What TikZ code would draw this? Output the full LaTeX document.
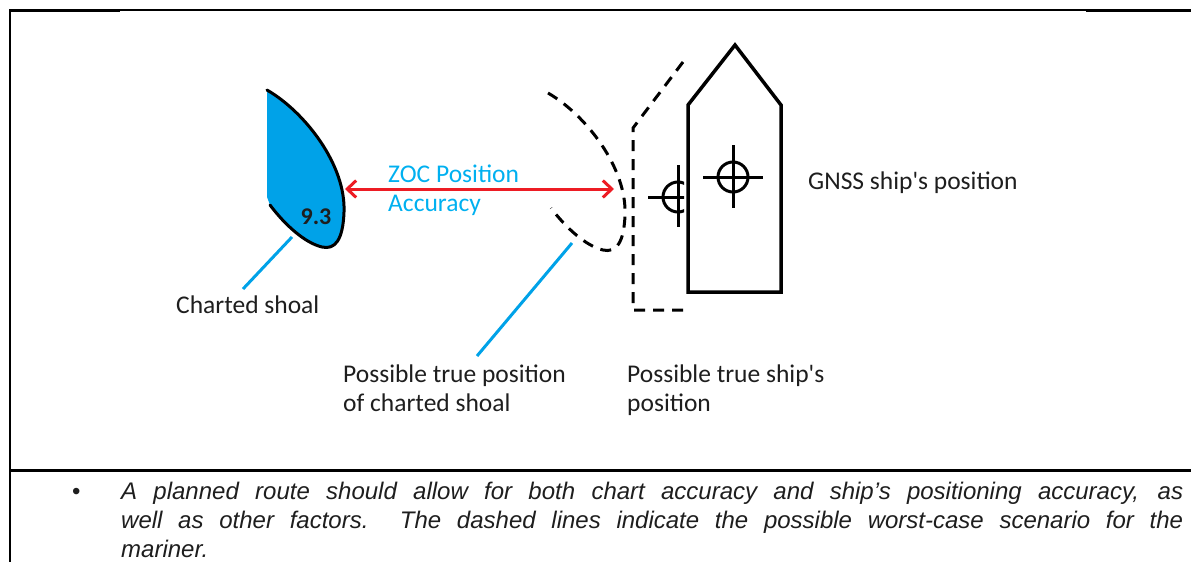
\documentclass[tikz,border=0pt]{standalone}
\usepackage{fontspec}
\setmainfont{Carlito}
\newfontfamily\arialfont{Liberation Sans}
\usetikzlibrary{arrows.meta}
\definecolor{shoalblue}{RGB}{0,162,232}
\definecolor{textblue}{RGB}{0,176,240}
\definecolor{arrred}{RGB}{237,28,36}
\definecolor{txt}{RGB}{30,30,30}
\newcommand{\sq}{\textquotesingle}
\begin{document}
\begin{tikzpicture}[x=1pt,y=-1pt,
  lbl/.style={anchor=base west,inner sep=0pt,font=\fontsize{25.5}{29.5}\selectfont,text=txt},
  outline/.style={line width=3pt,line cap=round,line join=round},
  dashline/.style={line width=3pt,dash pattern=on 11pt off 8pt},
  shipline/.style={line width=3.5pt,line join=miter},
  cross/.style={line width=3pt},
  leader/.style={draw=shoalblue,line width=3pt},
  thinframe/.style={line width=1.5pt},
  thickframe/.style={line width=3pt}]
\useasboundingbox (0,0) rectangle (1191,562);
% frame
\draw[thickframe] (10,10.5) -- (120,10.5);
\draw[thinframe] (120,10) -- (1086,10);
\draw[thickframe] (1086,10.5) -- (1191,10.5);
\draw[line width=2pt] (10,9) -- (10,562);
\draw[thickframe] (10,470) -- (1191,470);
% charted shoal
\fill[shoalblue] (267,90) .. controls (305,112) and (346,165) .. (344,212)
  .. controls (343,240) and (335,250) .. (322,247)
  .. controls (305,243) and (285,225) .. (270,205) -- (267,197) -- cycle;
\draw[outline] (267,90) .. controls (305,112) and (346,165) .. (344,212)
  .. controls (343,240) and (335,250) .. (322,247)
  .. controls (305,243) and (285,225) .. (270,205);
\node[font=\fontsize{24}{28}\selectfont\bfseries,inner sep=0pt,text=txt] (depth) at (316,217) {9.3};
% possible true shoal (dashed)
\begin{scope}[shift={(281,3)}]
\draw[dashline] (267,90) .. controls (305,112) and (346,165) .. (344,212)
  .. controls (343,240) and (335,250) .. (322,247)
  .. controls (305,243) and (285,225) .. (270,205);
\end{scope}
% ZOC arrow
\coordinate (zl) at (345,189);
\coordinate (zr) at (614,189);
\draw[arrred,line width=3pt,{Straight Barb[length=9pt,width=17pt]}-{Straight Barb[length=9pt,width=17pt]}] (zl) -- (zr);
\node[lbl,text=textblue] (zoc) at (388,182) {\begin{tabular}[t]{@{}l@{}}ZOC Position\\Accuracy\end{tabular}};
% ship (GNSS)
\draw[shipline] (688,292) -- (688,105) -- (735,45) -- (781,105) -- (781,292) -- cycle;
\draw[cross] (733,177) circle[radius=15pt];
\draw[cross] (703,177) -- (763,177);
\draw[cross] (733,145) -- (733,208);
% possible true ship (dashed)
\draw[dashline] (683,62) -- (633,128) -- (633,310) -- (683,310);
\begin{scope}
\clip (600,150) rectangle (684,240);
\draw[cross] (678,197) circle[radius=15pt];
\draw[cross] (648,197) -- (690,197);
\draw[cross] (678,165) -- (678,227);
\end{scope}
% labels
\node[lbl] (charted) at (176,313) {Charted shoal};
\node[lbl] (truepos) at (343,382) {\begin{tabular}[t]{@{}l@{}}Possible true position\\of charted shoal\end{tabular}};
\node[lbl] (trueship) at (627,382) {\begin{tabular}[t]{@{}l@{}}Possible true ship\sq s\\position\end{tabular}};
\node[lbl] (gnss) at (808,189) {GNSS ship\sq s position};
% leaders
\coordinate (l1a) at (292,237);
\coordinate (l1b) at (243,289);
\coordinate (l2a) at (572,243);
\coordinate (l2b) at (477,356);
\draw[leader] (l1a) -- (l1b);
\draw[leader] (l2a) -- (l2b);
% bottom note
\node[anchor=base west,inner sep=0pt,font=\arialfont\fontsize{24}{29}\selectfont,text=txt] (bullet) at (72,499) {\textbullet};
\node[anchor=base west,inner sep=0pt,font=\arialfont\itshape\fontsize{24}{29}\selectfont,text=txt] (note) at (121,499)
 {\parbox[t]{1062pt}{\hyphenpenalty=10000\exhyphenpenalty=10000
 A planned route should allow for both chart accuracy and ship’s positioning accuracy, as\linebreak
 well as other factors.\ \ The dashed lines indicate the possible worst-case scenario for the\linebreak
 mariner.}};
\end{tikzpicture}
\end{document}
